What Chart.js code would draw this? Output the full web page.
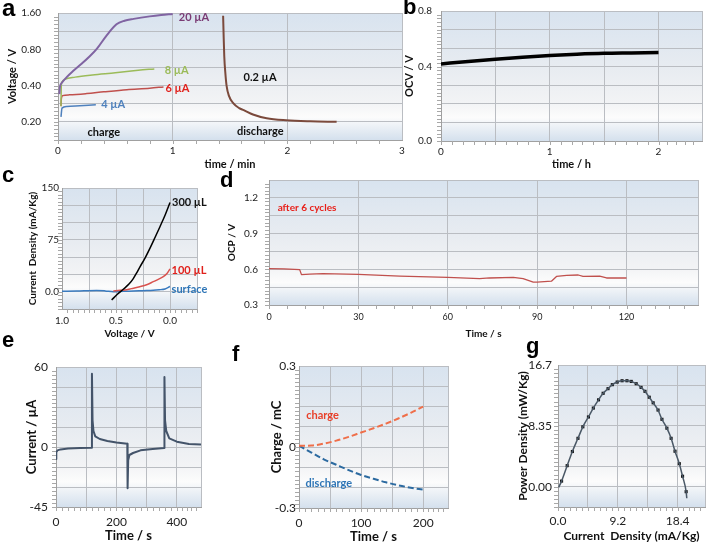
<!DOCTYPE html>
<html lang="en">
<head>
<meta charset="UTF-8">
<title>Cell charge / discharge panels</title>
<script src="https://cdn.jsdelivr.net/npm/chart.js"></script>
<style>
  html, body { margin: 0; padding: 0; background: #fff; }
  #page { position: relative; width: 709px; height: 545px; overflow: hidden; }
  #page canvas { position: absolute; }
  .tag { position: absolute; font: bold 22px "Liberation Sans", Arial, sans-serif; line-height: 22px; color: #000; }
</style>
</head>
<body>
<div id="page">
  <canvas id="pa"></canvas>
  <canvas id="pb"></canvas>
  <canvas id="pc"></canvas>
  <canvas id="pd"></canvas>
  <canvas id="pe"></canvas>
  <canvas id="pf"></canvas>
  <canvas id="pg"></canvas>
  <div class="tag" style="left:2px;top:-3px;font-size:24px">a</div>
  <div class="tag" style="left:403px;top:-4px">b</div>
  <div class="tag" style="left:2px;top:164px">c</div>
  <div class="tag" style="left:220px;top:169px">d</div>
  <div class="tag" style="left:2px;top:329px">e</div>
  <div class="tag" style="left:232px;top:343px">f</div>
  <div class="tag" style="left:526px;top:335px">g</div>
</div>
<script>
// a: charge at 4/6/8/20 µA, discharge at 0.2 µA (time / min, voltage / V)
const a20T = [0.012, 0.017, 0.032, 0.076, 0.134, 0.20, 0.27, 0.34, 0.42, 0.51, 0.58, 0.66, 0.80, 0.90, 1.0];
const a20V = [0.34, 0.39, 0.42, 0.47, 0.53, 0.60, 0.69, 0.81, 1.03, 1.29, 1.38, 1.43, 1.50, 1.54, 1.57];
const a8T = [0.026, 0.029, 0.035, 0.06, 0.15, 0.3, 0.5, 0.7, 0.84];
const a8V = [0.27, 0.40, 0.43, 0.45, 0.47, 0.49, 0.51, 0.535, 0.55];
const a6T = [0.026, 0.029, 0.04, 0.1, 0.25, 0.4, 0.6, 0.8, 0.92];
const a6V = [0.27, 0.31, 0.33, 0.335, 0.343, 0.355, 0.37, 0.38, 0.39];
const a4T = [0.026, 0.035, 0.076, 0.19, 0.33];
const a4V = [0.22, 0.26, 0.268, 0.272, 0.277];
const aDisT = [1.44, 1.445, 1.45, 1.46, 1.47, 1.49, 1.53, 1.58, 1.62, 1.70, 1.82, 1.99, 2.2, 2.43];
const aDisV = [1.52, 1.0, 0.7, 0.5, 0.40, 0.33, 0.285, 0.26, 0.25, 0.23, 0.214, 0.206, 0.202, 0.200];
const aGridY = [0.1414, 0.2, 0.2828, 0.4, 0.5657, 0.8, 1.1314, 1.6];
const aTickY = [1.6, 0.8, 0.4, 0.2];
const aTickYText = ['1.60', '0.80', '0.40', '0.20'];
const aTickX = [0, 1, 2, 3];
const aTickXText = ['0', '1', '2', '3'];

// b: open circuit voltage over time
const bT = [0, 0.25, 0.5, 0.75, 1, 1.25, 1.5, 1.75, 2];
const bV = [0.415, 0.428, 0.440, 0.451, 0.460, 0.467, 0.472, 0.474, 0.476];
const bTickY = [0.7, 0.4, 0];
const bTickYText = ['0.8', '0.4', '0.0'];
const bTickX = [0, 1, 2];
const bTickXText = ['0', '1', '2'];

// c: current density vs voltage
const c300V = [0.54, 0.49, 0.43, 0.38, 0.34, 0.31, 0.278, 0.23, 0.185, 0.14, 0.093, 0.045, 0];
const c300J = [-12, -4, 3.9, 11, 19, 27, 36, 49, 63, 78, 94, 111, 129];
const c100V = [0.525, 0.46, 0.4, 0.34, 0.28, 0.21, 0.154, 0.1, 0.062, 0.03, 0];
const c100J = [1, 2, 3, 5, 7.2, 10.5, 14.5, 18.5, 21.7, 26, 33];
const cSurfV = [1.0, 0.864, 0.68, 0.6, 0.525, 0.43, 0.34, 0.25, 0.154, 0.1, 0.046, 0];
const cSurfJ = [0.5, 1, 1.9, 1.2, 0, 0.6, 1, 1.5, 2, 2.8, 4, 7.5];
const cTickY = [150, 75, 0];
const cTickYText = ['150', '75', '0.0'];
const cTickX = [1, 0.5, 0];
const cTickXText = ['1.0', '0.5', '0.0'];

// d: OCP after 6 cycles
const dT = [0, 5, 10.3, 10.9, 13.7, 18.1, 30, 43.9, 60, 70.7, 74, 82, 85.3, 88.7, 90, 94.8, 96.5, 99.9, 103.8, 105.4, 111, 113.3, 120];
const dV = [0.606, 0.604, 0.597, 0.555, 0.56, 0.563, 0.558, 0.543, 0.532, 0.521, 0.527, 0.532, 0.521, 0.492, 0.492, 0.50, 0.54, 0.549, 0.552, 0.54, 0.543, 0.527, 0.527];
const dTickY = [1.2, 0.9, 0.6, 0.3];
const dTickYText = ['1.2', '0.9', '0.6', '0.3'];
const dTickX = [0, 30, 60, 90, 120];
const dTickXText = ['0', '30', '60', '90', '120'];

// e: current over time
const eT = [0, 1, 5, 15, 40, 80, 118, 119, 121, 124, 130, 145, 170, 200, 236, 237, 239, 243, 255, 280, 320, 358, 359, 361, 365, 375, 400, 440, 480];
const eI = [-9, -4, -2.5, -1.8, -1.2, -0.8, -0.5, 55, 20, 12, 8, 6, 4.5, 3.3, 2.5, -31, -10, -6, -4.5, -2.5, -1.5, -0.8, 52.5, 20, 12, 6.5, 4, 2.2, 1.8];
const eTickY = [60, 0, -45];
const eTickYText = ['60', '0', '-45'];
const eTickX = [0, 200, 400];
const eTickXText = ['0', '200', '400'];

// f: charge and discharge
const fT = [0, 20, 40, 60, 80, 100, 120, 140, 160, 180, 200];
const fCharge = [0.005, 0.006, 0.013, 0.024, 0.038, 0.054, 0.07, 0.087, 0.106, 0.127, 0.15];
const fDischarge = [0.005, -0.02, -0.045, -0.065, -0.085, -0.103, -0.117, -0.13, -0.141, -0.15, -0.157];
const fTickY = [0.3, 0, -0.225];
const fTickYText = ['0.3', '0', '-0.3'];
const fTickX = [0, 100, 200];
const fTickXText = ['0', '100', '200'];

// g: power density vs current density
const gI = [0.55, 1.41, 2.21, 3.07, 3.82, 4.68, 5.43, 6.23, 6.94, 7.69, 8.35, 9.1, 9.85, 10.6, 11.26, 12.02, 12.77, 13.37, 14.03, 14.63, 15.38, 15.98, 16.74, 17.39, 17.99, 18.65, 19.15, 19.7];
const gP = [0.77, 2.89, 4.83, 6.64, 8.22, 9.57, 10.79, 11.92, 12.82, 13.45, 14.0, 14.36, 14.54, 14.54, 14.45, 14.13, 13.63, 13.09, 12.28, 11.51, 10.52, 9.25, 8.03, 6.64, 4.87, 3.16, 1.44, -0.68];
const gFitStart = [0.1, -0.09];
const gFitEnd = [19.8, -1.58];
const gTickY = [16.7, 8.35, 0];
const gTickYText = ['16.7', '8.35', '0.00'];
const gTickX = [0, 9.2, 18.4];
const gTickXText = ['0.0', '9.2', '18.4'];

Chart.defaults.font.family = 'Lato, "Open Sans", "DejaVu Sans", sans-serif';
Chart.defaults.color = '#222';

const pts = (xs, ys) => xs.map((x, i) => ({ x: x, y: ys[i] }));
function steps(from, to, step) {
  const out = [];
  const n = Math.round((to - from) / step);
  for (let i = 0; i <= n; i++) out.push(+(from + i * step).toFixed(6));
  return out;
}

const plotBg = {
  id: 'plotBg',
  beforeDraw(chart) {
    const { ctx, chartArea: a } = chart;
    const g = ctx.createLinearGradient(0, a.top, 0, a.bottom);
    g.addColorStop(0, '#d8e3ef');
    g.addColorStop(0.45, '#e8ecf1');
    g.addColorStop(0.7, '#f2f3f5');
    g.addColorStop(0.82, '#fcfcfc');
    g.addColorStop(1, '#d4e0ed');
    ctx.save();
    ctx.fillStyle = g;
    ctx.fillRect(a.left, a.top, a.width, a.height);
    ctx.restore();
  }
};

const minorTicks = {
  id: 'minorTicks',
  afterDraw(chart) {
    const { ctx, chartArea: a, scales } = chart;
    ctx.save();
    ctx.strokeStyle = '#a8a8a8';
    ctx.lineWidth = 1;
    ['x', 'y'].forEach(k => {
      const s = scales[k];
      const t = s.ticks;
      for (let i = 0; i < t.length - 1; i++) {
        const p0 = s.getPixelForValue(t[i].value);
        const p1 = s.getPixelForValue(t[i + 1].value);
        for (let j = 0; j < 5; j++) {
          const p = Math.round(p0 + (p1 - p0) * j / 5) + 0.5;
          ctx.beginPath();
          if (k === 'x') { ctx.moveTo(p, a.bottom); ctx.lineTo(p, a.bottom + 4); }
          else { ctx.moveTo(a.left - 4, p); ctx.lineTo(a.left, p); }
          ctx.stroke();
        }
      }
    });
    ctx.restore();
  }
};

const panelNotes = {};
const notes = {
  id: 'notes',
  afterDatasetsDraw(chart) {
    const { ctx, scales } = chart;
    (panelNotes[chart.canvas.id] || []).forEach(n => {
      ctx.save();
      ctx.font = n.font;
      ctx.fillStyle = n.color;
      ctx.textAlign = n.align || 'center';
      ctx.textBaseline = 'middle';
      ctx.fillText(n.text, scales.x.getPixelForValue(n.x), scales.y.getPixelForValue(n.y));
      ctx.restore();
    });
  }
};

// label gap comes from an invisible tick mark, so ticks.padding stays 0
// (ticks.padding would otherwise push the plot area in)
function axis(spec, isX, fixed) {
  return {
    type: spec.type || 'linear',
    bounds: 'data',
    min: spec.min,
    max: spec.max,
    reverse: !!spec.reverse,
    afterBuildTicks: s => { s.ticks = spec.grid.map(v => ({ value: v })); },
    afterFit: s => { if (isX) s.height = fixed; else s.width = fixed; },
    grid: { color: '#babdc2', lineWidth: 1, drawTicks: true, tickLength: spec.pad, tickColor: 'rgba(0,0,0,0)' },
    border: { color: '#a0a0a0' },
    ticks: {
      autoSkip: false, maxRotation: 0, padding: 0, color: '#222',
      font: { size: spec.tickSize },
      callback: v => {
        const i = spec.labels.findIndex(t => Math.abs(t - v) < 1e-4);
        return i >= 0 ? spec.texts[i] : '';
      }
    },
    title: {
      display: true, text: spec.title, color: '#111',
      font: { size: spec.titleSize, weight: 'bold' },
      padding: isX ? { top: 0, bottom: spec.tpad } : { top: spec.tpad, bottom: 0 }
    }
  };
}

function panel(id, box, plot, xs, ys, datasets, noteList) {
  const cv = document.getElementById(id);
  cv.width = box.w; cv.height = box.h;
  cv.style.left = box.left + 'px'; cv.style.top = box.top + 'px';
  cv.style.width = box.w + 'px'; cv.style.height = box.h + 'px';
  panelNotes[id] = noteList || [];
  return new Chart(cv, {
    type: 'line',
    data: { datasets: datasets },
    plugins: [plotBg, minorTicks, notes],
    options: {
      responsive: false, animation: false, devicePixelRatio: 1,
      layout: { padding: { left: 0, top: plot.T - box.top, right: box.left + box.w - plot.R, bottom: 0 } },
      plugins: { legend: { display: false }, tooltip: { enabled: false } },
      elements: { point: { radius: 0 }, line: { borderWidth: 1.6, borderJoinStyle: 'round' } },
      scales: {
        x: axis(xs, true, box.top + box.h - plot.B),
        y: axis(ys, false, plot.L - box.left)
      }
    }
  });
}

const line = (data, color, width, extra) => Object.assign({
  data: data, borderColor: color, backgroundColor: color, borderWidth: width,
  cubicInterpolationMode: 'monotone', fill: false
}, extra || {});

// a
panel('pa', { left: 0, top: 0, w: 410, h: 172 }, { L: 58, T: 13, R: 402, B: 140 },
  { min: 0, max: 3, grid: steps(0, 3, 1), labels: aTickX, texts: aTickXText, pad: 5, tickSize: 10,
    title: 'time / min', titleSize: 11, tpad: 1 },
  { type: 'logarithmic', min: 0.1414, max: 1.6, grid: aGridY, labels: aTickY, texts: aTickYText, pad: 17, tickSize: 10,
    title: 'Voltage / V', titleSize: 11, tpad: 6 },
  [
    line(pts(a20T, a20V), '#8064a2', 2),
    line(pts(a8T, a8V), '#9bbb59', 1.5),
    line(pts(a6T, a6V), '#c0504d', 1.5),
    line(pts(a4T, a4V), '#4f81bd', 1.5),
    line(pts(aDisT, aDisV), '#7b4a3c', 2)
  ],
  [
    { text: '20 \u00b5A', x: 1.186, y: 1.474, color: '#7a3b74', font: 'bold 11px Lato' },
    { text: '8 \u00b5A', x: 1.035, y: 0.531, color: '#9bbb59', font: 'bold 11px Lato' },
    { text: '6 \u00b5A', x: 1.042, y: 0.380, color: '#e0201b', font: 'bold 11px Lato' },
    { text: '4 \u00b5A', x: 0.482, y: 0.281, color: '#4f81bd', font: 'bold 11px Lato' },
    { text: '0.2 \u00b5A', x: 1.762, y: 0.468, color: '#111', font: 'bold 11px Lato' },
    { text: 'charge', x: 0.399, y: 0.164, color: '#111', font: 'bold 11px Lato' },
    { text: 'discharge', x: 1.764, y: 0.168, color: '#111', font: 'bold 11px Lato' }
  ]);

// b
panel('pb', { left: 400, top: 0, w: 309, h: 172 }, { L: 441, T: 11, R: 702, B: 141 },
  { min: 0, max: 2.4, grid: steps(0, 2, 0.5).concat(2.4), labels: bTickX, texts: bTickXText, pad: 5, tickSize: 10,
    title: 'time / h', titleSize: 11, tpad: 1 },
  { min: 0, max: 0.7, grid: steps(0, 0.7, 0.1), labels: bTickY, texts: bTickYText, pad: 9, tickSize: 10,
    title: 'OCV / V', titleSize: 11, tpad: 3 },
  [ line(pts(bT, bV), '#000', 3.5) ]);

// c
panel('pc', { left: 0, top: 172, w: 215, h: 170 }, { L: 62, T: 188, R: 197, B: 309 },
  { min: -0.25, max: 1.0, reverse: true, grid: steps(-0.25, 1, 0.25), labels: cTickX, texts: cTickXText, pad: 6, tickSize: 10,
    title: 'Voltage / V', titleSize: 10, tpad: 2 },
  { min: -25, max: 150, grid: steps(-25, 150, 25), labels: cTickY, texts: cTickYText, pad: 3, tickSize: 10,
    title: 'Current  Density (mA/Kg)', titleSize: 10, tpad: 27 },
  [
    line(pts(c300V, c300J), '#000', 1.5),
    line(pts(c100V, c100J), '#d9534f', 1.5),
    line(pts(cSurfV, cSurfJ), '#3a7bbf', 1.5)
  ],
  [
    { text: '300 \u00b5L', x: -0.18, y: 128.6, color: '#111', font: 'bold 11px Lato' },
    { text: '100 \u00b5L', x: -0.176, y: 31.4, color: '#e0201b', font: 'bold 11px Lato' },
    { text: 'surface', x: -0.18, y: 3.9, color: '#2e75b6', font: 'bold 11px Lato' }
  ]);

// d
panel('pd', { left: 215, top: 172, w: 494, h: 170 }, { L: 269, T: 180, R: 698, B: 305 },
  { min: 0, max: 144, grid: steps(0, 120, 30).concat(144), labels: dTickX, texts: dTickXText, pad: 7, tickSize: 9,
    title: 'Time / s', titleSize: 10, tpad: 2 },
  { min: 0.3, max: 1.35, grid: steps(0.3, 1.35, 0.15), labels: dTickY, texts: dTickYText, pad: 11, tickSize: 10,
    title: 'OCP / V', titleSize: 10, tpad: 11 },
  [ line(pts(dT, dV), '#c0504d', 1.3, { cubicInterpolationMode: 'default', tension: 0 }) ],
  [ { text: 'after 6 cycles', x: 2.9, y: 1.115, color: '#e8201a', font: 'bold 10px Lato', align: 'left' } ]);

// e
panel('pe', { left: 0, top: 342, w: 215, h: 203 }, { L: 56, T: 367, R: 201, B: 507 },
  { min: 0, max: 480, grid: steps(0, 400, 100).concat(480), labels: eTickX, texts: eTickXText, pad: 8, tickSize: 12,
    title: 'Time / s', titleSize: 13, tpad: 1 },
  { min: -45, max: 60, grid: steps(-45, 60, 15), labels: eTickY, texts: eTickYText, pad: 8, tickSize: 12,
    title: 'Current / \u00b5A', titleSize: 13, tpad: 24 },
  [ line(pts(eT, eI), '#44546a', 2, { cubicInterpolationMode: 'default', tension: 0 }) ]);

// f
panel('pf', { left: 230, top: 342, w: 225, h: 203 }, { L: 299, T: 366, R: 448, B: 508 },
  { min: 0, max: 240, grid: steps(0, 200, 50).concat(240), labels: fTickX, texts: fTickXText, pad: 8, tickSize: 12,
    title: 'Time / s', titleSize: 13, tpad: 0 },
  { min: -0.225, max: 0.3, grid: steps(-0.225, 0.3, 0.075), labels: fTickY, texts: fTickYText, pad: 3, tickSize: 12,
    title: 'Charge / mC', titleSize: 13, tpad: 39 },
  [
    line(pts(fT, fCharge), '#ef6f4a', 2, { borderDash: [6, 3] }),
    line(pts(fT, fDischarge), '#2c6aa0', 2, { borderDash: [6, 3] })
  ],
  [
    { text: 'charge', x: 38, y: 0.119, color: '#e8402a', font: 'bold 11px Lato' },
    { text: 'discharge', x: 48, y: -0.134, color: '#2e75b6', font: 'bold 11px Lato' }
  ]);

// g
const gFit = [gFitStart].concat(gI.map((v, i) => [v, gP[i]]), [gFitEnd]);
panel('pg', { left: 465, top: 342, w: 244, h: 203 }, { L: 558, T: 365, R: 708, B: 507 },
  { min: 0, max: 22.6, grid: steps(0, 18.4, 4.6).concat(22.6), labels: gTickX, texts: gTickXText, pad: 7, tickSize: 12,
    title: 'Current  Density (mA/Kg)', titleSize: 12, tpad: 2 },
  { min: -2.78333, max: 16.7, grid: steps(-2.78333, 16.7, 2.78333), labels: gTickY, texts: gTickYText, pad: 6, tickSize: 12,
    title: 'Power Density (mW/Kg)', titleSize: 12, tpad: 51 },
  [
    line(gFit.map(p => ({ x: p[0], y: p[1] })), '#4a5866', 1.5),
    line(pts(gI, gP), '#111', 0, { showLine: false, pointStyle: 'rect', pointRadius: 2.2, pointBorderWidth: 0, pointBackgroundColor: '#111' })
  ]);
</script>
</body>
</html>
